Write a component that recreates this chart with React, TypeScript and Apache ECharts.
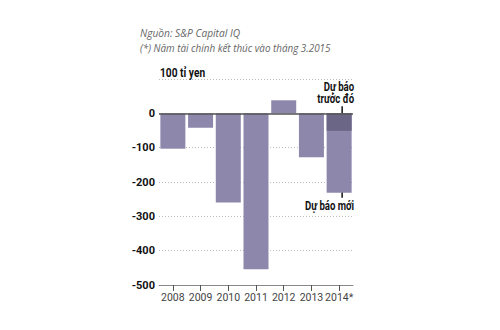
import React, { useEffect, useRef } from 'react';
import * as echarts from 'echarts';

const years = ['2008', '2009', '2010', '2011', '2012', '2013', '2014*'];
const profit = [-103, -42, -260, -454, 38, -128, -231];
const previousForecast = [null, null, null, null, null, null, -51];
const sourceLines = ['Nguồn: S&P Capital IQ', '(*) Năm tài chính kết thúc vào tháng 3.2015'];
const unitLabel = '100 tỉ yen';
const prevLabel = ['Dự báo', 'trước đó'];
const newLabel = 'Dự báo mới';

const FONT = 'Roboto, "Liberation Sans", sans-serif';

export default function App() {
  const ref = useRef<HTMLDivElement>(null);
  useEffect(() => {
    if (!ref.current) return;
    const chart = echarts.init(ref.current, undefined, { renderer: 'svg' });
    chart.setOption({
      animation: false,
      backgroundColor: '#ffffff',
      grid: { left: 159, right: 147, top: 79, bottom: 45 },
      xAxis: {
        type: 'category',
        data: years,
        axisLine: { onZero: false, lineStyle: { color: '#888', width: 1 } },
        axisTick: { show: true, alignWithLabel: true, length: 6, lineStyle: { color: '#555' } },
        axisLabel: { color: '#444', fontFamily: FONT, fontSize: 10.5, margin: 7, interval: 0 },
        splitLine: { show: false },
      },
      yAxis: {
        type: 'value',
        min: -500,
        max: 100,
        interval: 100,
        axisLine: { show: false },
        axisTick: { show: false },
        axisLabel: {
          color: '#111',
          fontFamily: FONT,
          fontWeight: 'bold',
          fontSize: 11,
          margin: 4,
          formatter: (v: number) => (v === 100 ? '' : String(v)),
        },
        splitLine: { lineStyle: { color: '#bbb', type: [1, 2], width: 1 } },
      },
      series: [
        {
          type: 'bar',
          data: profit,
          barWidth: 25,
          itemStyle: { color: '#8d87ac' },
          markLine: {
            silent: true,
            symbol: 'none',
            label: { show: false },
            lineStyle: { color: '#555', type: 'solid', width: 1.5 },
            data: [{ yAxis: 0 }],
          },
        },
        {
          type: 'bar',
          data: previousForecast,
          barWidth: 25,
          barGap: '-100%',
          itemStyle: { color: '#6c6686' },
        },
      ],
    });

    const p0 = chart.convertToPixel({ gridIndex: 0 }, ['2014*', 0]) as number[];
    const pPrev = chart.convertToPixel({ gridIndex: 0 }, ['2014*', previousForecast[6] as number]) as number[];
    const pNew = chart.convertToPixel({ gridIndex: 0 }, ['2014*', profit[6]]) as number[];
    const ax = p0[0] + 3;
    const right = p0[0] + 15;
    const annFont = { fontFamily: FONT, fontWeight: 'bold', fontSize: 12, fill: '#111' };
    const narrowText = (text: string, x: number, y: number) => ({
      type: 'group',
      x,
      y,
      scaleX: 0.8,
      children: [
        { type: 'text', x: 0, y: 0, style: { text, align: 'right', verticalAlign: 'middle', ...annFont } },
      ],
    });
    const srcStyle = { fontFamily: '"Open Sans", sans-serif', fontStyle: 'italic', fontSize: 10.5, fill: '#666' };

    chart.setOption({
      graphic: [
        {
          type: 'group',
          x: 140,
          y: 33,
          scaleX: 0.97,
          children: [{ type: 'text', x: 0, y: 0, style: { text: sourceLines[0], verticalAlign: 'middle', ...srcStyle } }],
        },
        {
          type: 'group',
          x: 140,
          y: 48,
          scaleX: 0.94,
          children: [{ type: 'text', x: 0, y: 0, style: { text: sourceLines[1], verticalAlign: 'middle', ...srcStyle } }],
        },
        {
          type: 'group',
          x: 160,
          y: 73,
          scaleX: 0.85,
          children: [{ type: 'text', x: 0, y: 0, style: { text: unitLabel, verticalAlign: 'middle', ...annFont } }],
        },
        narrowText(prevLabel[0], right, p0[1] - 26),
        narrowText(prevLabel[1], right, p0[1] - 14),
        {
          type: 'line',
          shape: { x1: ax, y1: p0[1] - 7, x2: ax, y2: pPrev[1] - 7 },
          style: { stroke: '#111', lineWidth: 1.5 },
        },
        {
          type: 'polygon',
          shape: { points: [[ax - 2.5, pPrev[1] - 8], [ax + 2.5, pPrev[1] - 8], [ax, pPrev[1] - 4]] },
          style: { fill: '#111' },
        },
        {
          type: 'line',
          shape: { x1: ax, y1: pNew[1] - 6, x2: ax, y2: pNew[1] + 5 },
          style: { stroke: '#111', lineWidth: 1.5 },
        },
        {
          type: 'polygon',
          shape: { points: [[ax - 2.5, pNew[1] - 5], [ax + 2.5, pNew[1] - 5], [ax, pNew[1] - 9]] },
          style: { fill: '#111' },
        },
        narrowText(newLabel, right, pNew[1] + 13),
      ],
    });
    return () => chart.dispose();
  }, []);
  return <div ref={ref} style={{ position: 'fixed', left: 0, top: 0, width: 500, height: 330 }} />;
}
